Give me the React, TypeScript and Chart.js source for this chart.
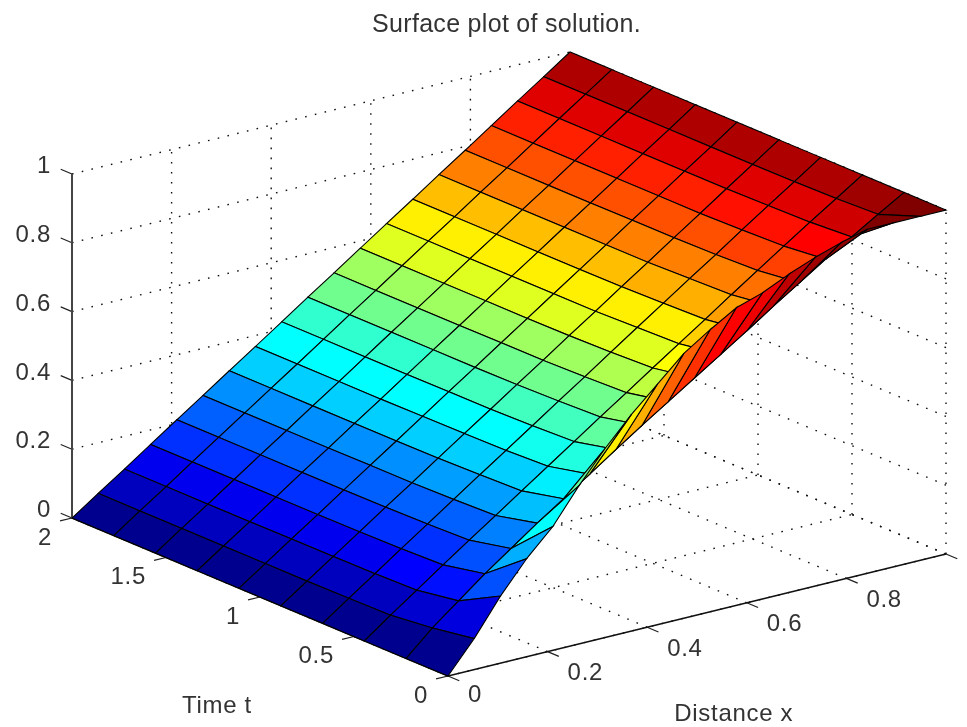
import React, { useEffect, useRef } from "react";
import { Chart, registerables } from "chart.js";

Chart.register(...registerables);

const xMesh = [0, 0.0526, 0.1053, 0.1579, 0.2105, 0.2632, 0.3158, 0.3684, 0.4211, 0.4737, 0.5263, 0.5789, 0.6316, 0.6842, 0.7368, 0.7895, 0.8421, 0.8947, 0.9474, 1];
const tMesh = [0, 0.2222, 0.4444, 0.6667, 0.8889, 1.1111, 1.3333, 1.5556, 1.7778, 2];

const uT0 = [0, 0.09, 0.195, 0.285, 0.36, 0.46, 0.55, 0.63, 0.7, 0.77, 0.82, 0.865, 0.89, 0.925, 0.955, 0.98, 1, 1, 1, 1];
const uT1 = [0, 0.07, 0.13, 0.19, 0.245, 0.3, 0.352, 0.405, 0.458, 0.51, 0.56, 0.61, 0.66, 0.71, 0.762, 0.812, 0.862, 0.908, 0.955, 1];
const uT2 = [0, 0.056, 0.11, 0.165, 0.218, 0.271, 0.324, 0.377, 0.43, 0.483, 0.535, 0.588, 0.64, 0.692, 0.745, 0.797, 0.849, 0.9, 0.95, 1];
const uT3 = [0, 0.054, 0.107, 0.161, 0.214, 0.267, 0.32, 0.372, 0.425, 0.478, 0.53, 0.583, 0.636, 0.688, 0.741, 0.792, 0.845, 0.897, 0.948, 1];
const uT4 = [0, 0.053, 0.106, 0.159, 0.212, 0.264, 0.317, 0.37, 0.422, 0.475, 0.527, 0.58, 0.632, 0.685, 0.737, 0.79, 0.842, 0.895, 0.947, 1];
const uT5 = [0, 0.053, 0.106, 0.158, 0.211, 0.264, 0.316, 0.369, 0.422, 0.474, 0.527, 0.579, 0.632, 0.684, 0.737, 0.79, 0.842, 0.895, 0.947, 1];
const uT6 = [0, 0.053, 0.105, 0.158, 0.211, 0.263, 0.316, 0.368, 0.421, 0.474, 0.526, 0.579, 0.632, 0.684, 0.737, 0.789, 0.842, 0.895, 0.947, 1];
const uT7 = [0, 0.053, 0.105, 0.158, 0.211, 0.263, 0.316, 0.368, 0.421, 0.474, 0.526, 0.579, 0.632, 0.684, 0.737, 0.789, 0.842, 0.895, 0.947, 1];
const uT8 = [0, 0.053, 0.105, 0.158, 0.211, 0.263, 0.316, 0.368, 0.421, 0.474, 0.526, 0.579, 0.632, 0.684, 0.737, 0.789, 0.842, 0.895, 0.947, 1];
const uT9 = [0, 0.053, 0.105, 0.158, 0.211, 0.263, 0.316, 0.368, 0.421, 0.474, 0.526, 0.579, 0.632, 0.684, 0.737, 0.789, 0.842, 0.895, 0.947, 1];
const uRows = [uT0, uT1, uT2, uT3, uT4, uT5, uT6, uT7, uT8, uT9];

const xTicks = [0, 0.2, 0.4, 0.6, 0.8, 1];
const tTicks = [0, 0.5, 1, 1.5, 2];
const zTicks = [0, 0.2, 0.4, 0.6, 0.8, 1];
const xTickLabels = ["0", "0.2", "0.4", "0.6", "0.8"];
const tTickLabels = ["0", "0.5", "1", "1.5", "2"];
const zTickLabels = ["0", "0.2", "0.4", "0.6", "0.8", "1"];

const TITLE = "Surface plot of solution.";
const X_LABEL = "Distance x";
const T_LABEL = "Time t";

// orthographic view of the (x, t, z) box onto the plot plane
function project(x: number, t: number, z: number) {
  return {
    x: 448 + 498 * x - 188 * t,
    y: 676 - 122 * x - 79 * t - 344 * z,
  };
}

function jet(v: number) {
  const i = Math.min(63, Math.max(0, Math.floor(v * 64))) + 1;
  const u = (j: number) => {
    if (j < 1 || j > 47) return 0;
    if (j <= 16) return j / 16;
    if (j <= 31) return 1;
    return (48 - j) / 16;
  };
  const c = (a: number) => Math.round(a * 255);
  return `rgb(${c(u(i - 24))},${c(u(i - 8))},${c(u(i + 8))})`;
}

const FONT = "'Liberation Sans', Arial, sans-serif";
const INK = "#333333";

function lineSet(a: [number, number, number], b: [number, number, number], style: any) {
  return {
    type: "line",
    data: [project(...a), project(...b)],
    pointRadius: 0,
    fill: false,
    tension: 0,
    ...style,
  };
}

function buildDatasets() {
  const sets: any[] = [];
  // surface, nearest cell first (the first dataset is painted last)
  for (let i = 0; i < tMesh.length - 1; i++) {
    for (let k = 0; k < xMesh.length - 1; k++) {
      const t0 = tMesh[i];
      const t1 = tMesh[i + 1];
      const x0 = xMesh[k];
      const x1 = xMesh[k + 1];
      sets.push({
        type: "line",
        data: [
          project(x0, t0, uRows[i][k]),
          project(x1, t0, uRows[i][k + 1]),
          project(x1, t1, uRows[i + 1][k + 1]),
          project(x0, t1, uRows[i + 1][k]),
          project(x0, t0, uRows[i][k]),
        ],
        backgroundColor: jet(uRows[i][k]),
        borderColor: "#000",
        borderWidth: 1.1,
        fill: "shape",
        pointRadius: 0,
        tension: 0,
      });
    }
  }
  const axis = { borderColor: "#111", borderWidth: 1.6 };
  const tick = { borderColor: "#222", borderWidth: 1.2 };
  sets.push(lineSet([0, 2, 0], [0, 2, 1], { ...axis, borderColor: "#444", borderWidth: 2 }));
  sets.push(lineSet([0, 0, 0], [1, 0, 0], axis));
  sets.push(lineSet([0, 0, 0], [0, 2, 0], axis));
  zTicks.forEach((z) => sets.push(lineSet([0, 2, z], [0, 2.06, z], tick)));
  tTicks.forEach((t) => sets.push(lineSet([0, t, 0], [-0.024, t, 0], tick)));
  xTicks.forEach((x) => sets.push(lineSet([x, 0, 0], [x, -0.06, 0], tick)));

  const grid = { borderColor: "#111", borderWidth: 1.4, borderDash: [1.6, 8.4] };
  xTicks.forEach((x) => {
    sets.push(lineSet([x, 2, 0], [x, 2, 1], grid));
    sets.push(lineSet([x, 0, 0], [x, 2, 0], grid));
  });
  tTicks.forEach((t) => {
    sets.push(lineSet([1, t, 0], [1, t, 1], grid));
    sets.push(lineSet([0, t, 0], [1, t, 0], grid));
  });
  zTicks.forEach((z) => {
    sets.push(lineSet([0, 2, z], [1, 2, z], grid));
    sets.push(lineSet([1, 0, z], [1, 2, z], grid));
  });
  return sets;
}

const axisText = {
  id: "axisText",
  beforeDraw(chart: any) {
    chart.ctx.letterSpacing = "0.3px";
  },
  afterDatasetsDraw(chart: any) {
    const { ctx, scales } = chart;
    const put = (text: string, px: number, py: number, align: CanvasTextAlign) => {
      ctx.textAlign = align;
      ctx.fillText(text, scales.x.getPixelForValue(px), scales.y.getPixelForValue(py));
    };
    ctx.save();
    ctx.letterSpacing = "0.7px";
    ctx.fillStyle = INK;
    ctx.textBaseline = "middle";
    ctx.font = `24px ${FONT}`;
    zTicks.forEach((z, i) => {
      const p = project(0, 2, z);
      put(zTickLabels[i], p.x - 21, p.y - 7.5, "right");
    });
    tTicks.forEach((t, i) => {
      const p = project(0, t, 0);
      put(tTickLabels[i], p.x - 20, p.y + 20, "right");
    });
    xTickLabels.forEach((label, i) => {
      const p = project(xTicks[i], 0, 0);
      put(label, p.x + 20, p.y + (i === 0 ? 19 : 22), "left");
    });
    const tp = project(0, 1, 0);
    put(T_LABEL, tp.x - 43, tp.y + 109, "center");
    const xp = project(0.6, 0, 0);
    put(X_LABEL, xp.x - 13, xp.y + 112, "center");
    ctx.restore();
  },
  afterDraw(chart: any) {
    chart.ctx.letterSpacing = "0px";
  },
};

export default function App() {
  const ref = useRef<HTMLCanvasElement | null>(null);
  useEffect(() => {
    if (!ref.current) return;
    const chart = new Chart(ref.current, {
      type: "line",
      data: { datasets: buildDatasets() },
      plugins: [axisText],
      options: {
        animation: false,
        responsive: false,
        events: [],
        layout: { padding: { left: 46, right: 0, top: 0, bottom: 0 } },
        scales: {
          x: { type: "linear", display: false, min: 46, max: 967 },
          y: { type: "linear", display: false, reverse: true, min: 40, max: 727 },
        },
        plugins: {
          legend: { display: false },
          tooltip: { enabled: false },
          title: {
            display: true,
            fullSize: false,
            text: TITLE,
            color: INK,
            font: { family: FONT, size: 25, weight: "normal", lineHeight: 1.2 },
            padding: { top: 10, bottom: 0 },
          },
        },
      },
    } as any);
    return () => chart.destroy();
  }, []);
  return (
    <div style={{ position: "fixed", left: 0, top: 0, width: 967, height: 727, background: "#fff" }}>
      <canvas ref={ref} width={967} height={727} style={{ display: "block" }} />
    </div>
  );
}
